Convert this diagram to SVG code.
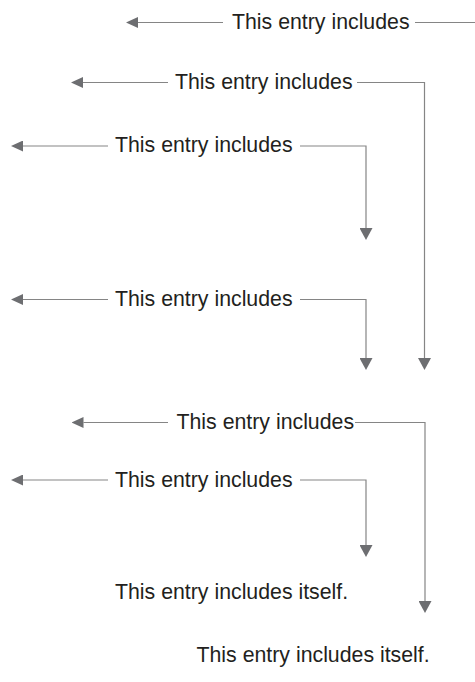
<svg xmlns="http://www.w3.org/2000/svg" width="475" height="682" viewBox="0 0 475 682">
<style>
  text { font-family: "Liberation Sans", Arial, Helvetica, sans-serif; font-size: 21.3px; fill: #231f20; }
  .c { fill: none; stroke: #858585; stroke-width: 1.2; }
</style>
<defs>
  <marker id="ah" viewBox="0 0 12 11" refX="0" refY="5.5" markerWidth="12" markerHeight="11" markerUnits="userSpaceOnUse" orient="auto">
    <path d="M0,0 L12,5.5 L0,11 z" fill="#6d6e71"/>
  </marker>
  <marker id="ad" viewBox="0 0 12 13" refX="0" refY="6.5" markerWidth="12" markerHeight="13" markerUnits="userSpaceOnUse" orient="auto">
    <path d="M0,0 L12,6.5 L0,13 z" fill="#6d6e71"/>
  </marker>
</defs>
<rect width="475" height="682" fill="#ffffff"/>
<g id="connectors">
  <path class="c" d="M223 22.5 H138" marker-end="url(#ah)"/>
  <path class="c" d="M415 22.5 H481 V657" marker-end="url(#ad)"/>
  <path class="c" d="M168 82.5 H83" marker-end="url(#ah)"/>
  <path class="c" d="M357 82.5 H424.5 V358" marker-end="url(#ad)"/>
  <path class="c" d="M108 146 H23" marker-end="url(#ah)"/>
  <path class="c" d="M300 146 H366 V228" marker-end="url(#ad)"/>
  <path class="c" d="M108 299.5 H23" marker-end="url(#ah)"/>
  <path class="c" d="M300 299.5 H366 V358" marker-end="url(#ad)"/>
  <path class="c" d="M168 422.5 H83.5" marker-end="url(#ah)"/>
  <path class="c" d="M355 422.5 H425 V601" marker-end="url(#ad)"/>
  <path class="c" d="M108 480 H23" marker-end="url(#ah)"/>
  <path class="c" d="M300 480 H366 V545" marker-end="url(#ad)"/>
</g>
<g id="n1"><text x="232" y="28.5">This entry includes</text></g>
<g id="n2"><text x="175" y="89">This entry includes</text></g>
<g id="n3"><text x="115" y="152.3">This entry includes</text></g>
<g id="n4"><text x="115" y="306">This entry includes</text></g>
<g id="n5"><text x="176.5" y="429.2">This entry includes</text></g>
<g id="n6"><text x="115" y="486.7">This entry includes</text></g>
<g id="n7"><text x="115" y="599.3">This entry includes itself.</text></g>
<g id="n8"><text x="196.5" y="661.7">This entry includes itself.</text></g>
</svg>
